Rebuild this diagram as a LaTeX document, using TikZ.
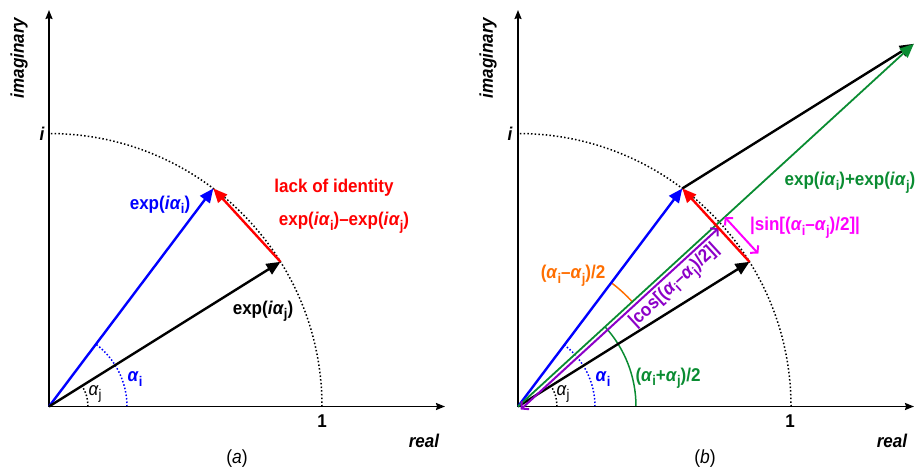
\documentclass[tikz,border=0pt]{standalone}
\usepackage{fontspec}
\setmainfont[FakeStretch=0.92]{Liberation Sans}
\usetikzlibrary{arrows.meta}
\definecolor{vblue}{RGB}{0,0,255}
\definecolor{vred}{RGB}{255,0,0}
\definecolor{vgreen}{RGB}{10,140,50}
\definecolor{vorange}{RGB}{255,110,0}
\definecolor{vpurple}{RGB}{140,0,200}
\definecolor{vmag}{RGB}{255,0,255}
\newcommand{\Sb}[1]{\raisebox{-4.5pt}{\fontsize{14}{14}\selectfont #1}}
\newcommand{\Al}[1]{\textit{α}\Sb{#1}}
\newcommand{\Ex}[1]{exp(\textit{i}\Al{#1})}
\begin{document}
\begin{tikzpicture}[x=1pt,y=1pt,
  lbl/.style={font=\bfseries\fontsize{18.5}{20}\selectfont, inner sep=1pt},
  ilbl/.style={font=\bfseries\itshape\fontsize{18.5}{20}\selectfont, inner sep=1pt},
  plbl/.style={font=\fontsize{18.5}{20}\selectfont, inner sep=1pt},
  captxt/.style={font=\fontsize{19}{20}\selectfont, inner sep=1pt},
  vec/.style={line width=2.4pt, -{Triangle[length=14pt,width=12pt]}},
  axis/.style={line width=1.6pt, -{Stealth[length=9pt,width=7pt,inset=1pt]}},
  unitc/.style={dash pattern=on 1.5pt off 2.2pt, line width=1.5pt},
  smalldot/.style={dash pattern=on 1.5pt off 2pt, line width=1.5pt},
  barb/.style={{Straight Barb[length=5pt,width=11pt]}-{Straight Barb[length=5pt,width=11pt]}}
  ]
\useasboundingbox (0,0) rectangle (918,469);
% ---------------- panel (a) ----------------
\coordinate (O1) at (49,62.5);
\coordinate (X1) at (445,62.5);
\coordinate (Y1) at (49,459);
\coordinate (I1) at ([shift={(53:273)}]O1);
\coordinate (J1) at ([shift={(32:273)}]O1);
\draw[unitc] ([shift={(0:273)}]O1) arc[start angle=0,end angle=90,radius=273];
\draw[smalldot,vblue] ([shift={(0:78)}]O1) arc[start angle=0,end angle=53,radius=78];
\draw[smalldot] ([shift={(0:39)}]O1) arc[start angle=0,end angle=32,radius=39];
\draw[axis] (O1) -- (X1);
\draw[axis] (O1) -- (Y1);
\draw[vec,vblue] (O1) -- (I1);
\draw[vec] (O1) -- (J1);
\draw[vec,vred] (J1) -- (I1);
\node[ilbl,rotate=90] (ima) at (19,411) {imaginary};
\node[ilbl] (ia) at (42,335) {i};
\node[lbl] (onea) at (322,48) {1};
\node[ilbl] (rea) at (424,28) {real};
\node[captxt] (capa) at (237,10) {(\textit{a})};
\node[lbl,vblue] (expia) at (160,264) {\Ex{i}};
\node[lbl,vred] (lack) at (334,281) {lack of identity};
\node[lbl,vred] (diff) at (344,246) {\Ex{i}–\Ex{j}};
\node[lbl] (expja) at (263,158) {\Ex{j}};
\node[lbl,vblue] (aia) at (135,90) {\Al{i}};
\node[plbl] (aja) at (95,75) {\Al{j}};
% ---------------- panel (b) ----------------
\coordinate (O2) at (518,62.5);
\coordinate (X2) at (914,62.5);
\coordinate (Y2) at (518,459);
\coordinate (I2) at ([shift={(53:273)}]O2);
\coordinate (J2) at ([shift={(32:273)}]O2);
\coordinate (S2) at ([shift={(32:273)}]I2);
\coordinate (M2) at ([shift={(42.5:{273*cos(10.5)})}]O2);
\coordinate (P0) at ([shift={(-47.5:4)}]O2);
\coordinate (P1) at ([shift={(-47.5:4)}]M2);
\coordinate (Q0) at ([shift={(42.5:12)}]M2);
\coordinate (Q1) at ([shift={(42.5:12)}]J2);
\coordinate (C0) at ([shift={(42.5:197)}]O2);
\coordinate (C1) at ([shift={(-47.5:18)}]C0);
\draw[unitc] ([shift={(0:273)}]O2) arc[start angle=0,end angle=90,radius=273];
\draw[smalldot,vblue] ([shift={(0:77)}]O2) arc[start angle=0,end angle=53,radius=77];
\draw[smalldot] ([shift={(0:39)}]O2) arc[start angle=0,end angle=32,radius=39];
\draw[vgreen,line width=1.5pt] ([shift={(0:118)}]O2) arc[start angle=0,end angle=42.5,radius=118];
\draw[vorange,line width=1.5pt] ([shift={(42.5:155)}]O2) arc[start angle=42.5,end angle=53,radius=155];
\draw[axis] (O2) -- (X2);
\draw[axis] (O2) -- (Y2);
\draw[vec,vblue] (O2) -- (I2);
\draw[vec] (O2) -- (J2);
\draw[vec] (I2) -- (S2);
\draw[vec,vgreen,line width=1.8pt] (O2) -- (S2);
\draw[barb,vpurple,line width=2pt] (P0) -- (P1);
\draw[vec,vred] (J2) -- (I2);
\draw[barb,vmag,line width=2pt] (Q0) -- (Q1);
\node[ilbl,rotate=90] (imb) at (488,411) {imaginary};
\node[ilbl] (ib) at (510,335) {i};
\node[lbl] (oneb) at (790,48) {1};
\node[ilbl] (reb) at (892,28) {real};
\node[captxt] (capb) at (705,10) {(\textit{b})};
\node[lbl,vgreen] (sum) at (850,286) {\Ex{i}+\Ex{j}};
\node[lbl,vmag] (sinl) at (805,241) {|sin[(\Al{i}–\Al{j})/2]|};
\node[lbl,vorange] (dif2) at (573,193) {(\Al{i}–\Al{j})/2};
\node[lbl,vpurple,rotate=42.5] (cosl) at (C1) {|cos[(\Al{i}–\Al{j})/2]|};
\node[lbl,vgreen] (half) at (668,91) {(\Al{i}+\Al{j})/2};
\node[lbl,vblue] (aib) at (603,90) {\Al{i}};
\node[plbl] (ajb) at (563,75) {\Al{j}};
\end{tikzpicture}
\end{document}
